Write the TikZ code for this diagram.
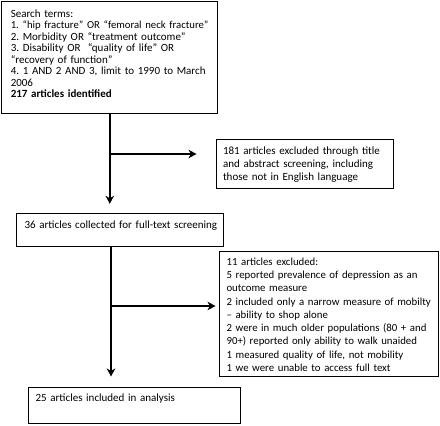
\documentclass[tikz,border=0pt]{standalone}
\usepackage{fontspec}
\setmainfont{Carlito}
\usetikzlibrary{arrows.meta}
\tikzset{box/.style = {draw, line width = 1.1pt, anchor = north west, align = left,
                       inner ysep = 0pt,
                       font = \fontsize{11}{11.5}\selectfont\frenchspacing}}
\tikzset{pad/.style = {execute at begin node = {\leftskip = #1}}}
\tikzset{arr/.style = {line width = 1.6pt, -{Stealth[length=8pt, width=8.5pt, inset=2.5pt]}}}

\begin{document}
\begin{tikzpicture}[x = 1pt, y = -1pt]
    \useasboundingbox (0, 0) rectangle (440, 426);

    % boxes
    \node [box, inner xsep = 5pt, pad = 4pt, text width = 206pt,
           text height = 15.6pt, text depth = 95.7pt] (search) at (1.2, 1.2)
      {Search terms:\\
       {\fontsize{10.7}{11.5}\selectfont 1. “hip fracture” OR “femoral neck fracture”}\\
       2. Morbidity OR “treatment outcome”\\
       3. Disability OR~ “quality of life” OR\\
       “recovery of function”\\
       4. 1 AND 2 AND 3, limit to 1990 to March\\
       2006\\
       \textbf{217 articles identified}};
    \node [box, font = \fontsize{11}{13.3}\selectfont, inner xsep = 4pt, pad = 3pt, text width = 169pt,
           text height = 14.7pt, text depth = 34pt] (title) at (215.5, 138.8)
      {181 articles excluded through title\\
       and abstract screening, including\\
       those not in English language};
    \node [box, inner xsep = 4pt, pad = 4.5pt, text width = 199pt,
           text height = 15.5pt, text depth = 18pt] (full) at (15.5, 212.8)
      {36 articles collected for full-text screening};
    \node [box, font = \fontsize{10.8}{13.25}\selectfont\frenchspacing, inner xsep = 2.5pt, pad = 5pt,
           text width = 214pt, text height = 14pt, text depth = 111pt] (excl) at (218.5, 250.8)
      {11 articles excluded:\\
       5 reported prevalence of depression as an\\
       outcome measure\\
       2 included only a narrow measure of mobilty\\
       -- ability to shop alone\\
       2 were in much older populations (80 + and\\
       90+) reported only ability to walk unaided\\
       1 measured quality of life, not mobility\\
       1 we were unable to access full text};
    \node [box, inner xsep = 4pt, pad = 3.5pt, text width = 204pt,
           text height = 14pt, text depth = 22pt] (incl) at (27.5, 386.5)
      {25 articles included in analysis};

    % connectors
    \coordinate (j1) at (109, 154);
    \coordinate (j2) at (111, 306);
    \draw [arr, shorten >= 9pt] (search.south) -- (search.south |- full.north);
    \draw [arr, shorten >= 19pt] (j1) -- (j1 -| title.west);
    \draw [arr, shorten >= 10pt] (j2 |- full.south) -- (j2 |- incl.north);
    \draw [arr, shorten >= 3pt] (j2) -- (j2 -| excl.west);
  \end{tikzpicture}
\end{document}
